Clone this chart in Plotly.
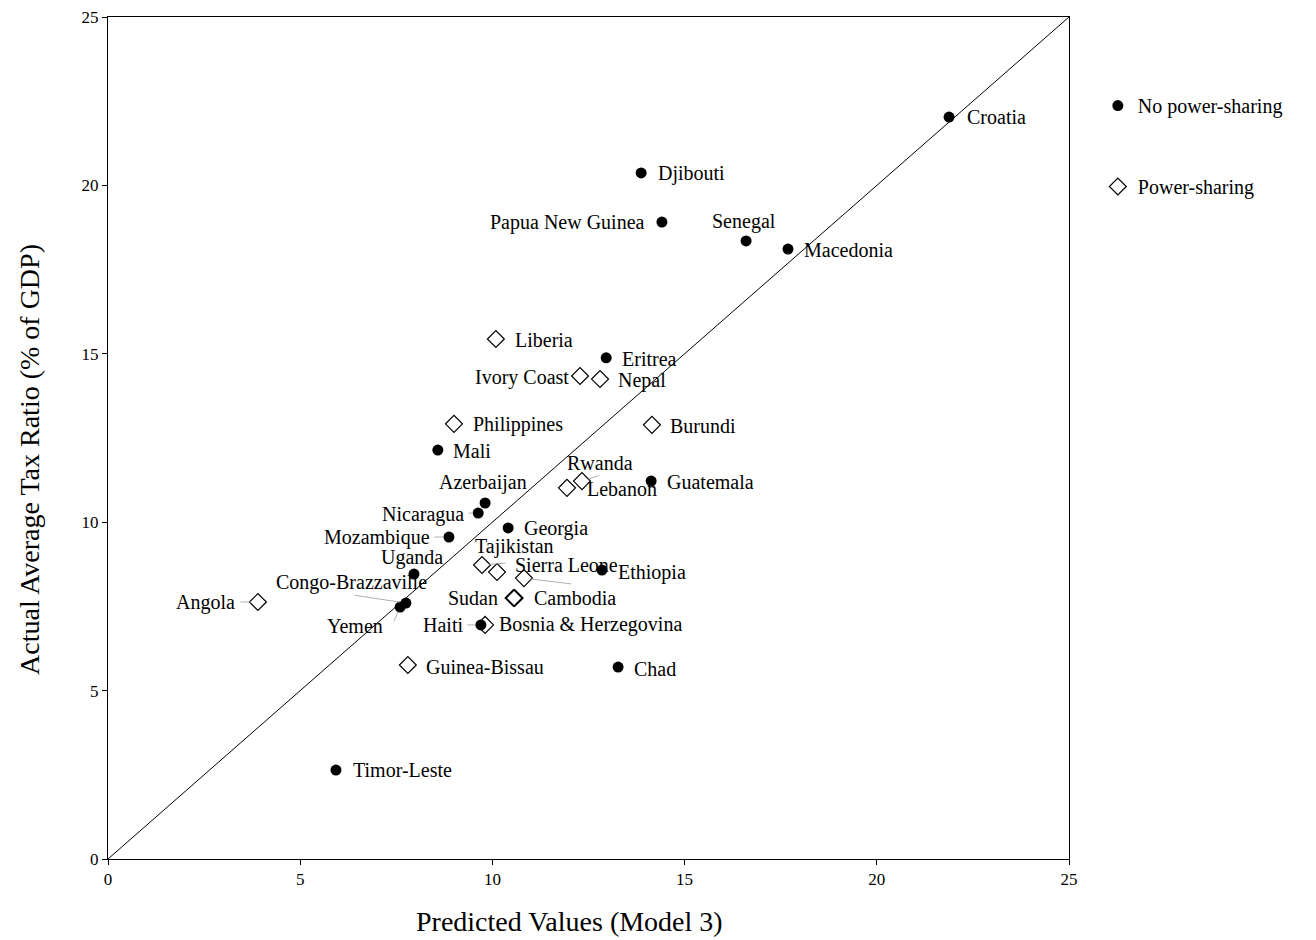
import plotly.graph_objects as go

# No power-sharing (filled circles)
nps_names = ["Croatia", "Djibouti", "Papua New Guinea", "Senegal", "Macedonia", "Eritrea",
             "Mali", "Guatemala", "Azerbaijan", "Nicaragua", "Georgia", "Mozambique",
             "Uganda", "Ethiopia", "Congo-Brazzaville", "Yemen", "Haiti", "Chad", "Timor-Leste"]
nps_pred = [21.88, 13.87, 14.41, 16.60, 17.69, 12.96, 8.58, 14.13, 9.81, 9.63, 10.41, 8.87,
            7.96, 12.85, 7.75, 7.60, 9.70, 13.27, 5.93]
nps_actual = [22.03, 20.37, 18.91, 18.35, 18.11, 14.88, 12.14, 11.22, 10.57, 10.27, 9.83, 9.56,
              8.46, 8.58, 7.60, 7.48, 6.95, 5.70, 2.64]

# Power-sharing (open diamonds)
ps_names = ["Liberia", "Ivory Coast", "Nepal", "Philippines", "Burundi", "Rwanda", "Lebanon",
            "Tajikistan", "Sierra Leone", "", "Sudan", "Cambodia", "Bosnia & Herzegovina",
            "Angola", "Guinea-Bissau"]
ps_pred = [10.09, 12.28, 12.80, 9.00, 14.15, 12.33, 11.94, 9.73, 10.12, 10.82, 10.55, 10.58,
           9.81, 3.90, 7.80]
ps_actual = [15.44, 14.34, 14.25, 12.92, 12.89, 11.22, 11.02, 8.73, 8.52, 8.34, 7.75, 7.75,
             6.95, 7.63, 5.76]

ticks = [0, 5, 10, 15, 20, 25]
x_title = "Predicted Values (Model 3)"
y_title = "Actual Average Tax Ratio (% of GDP)"

# label placement: name -> (xanchor, xshift, yshift)
label_pos = {
    "Croatia": ("left", 16, 0), "Djibouti": ("left", 15, -1), "Papua New Guinea": ("right", -15, 0),
    "Senegal": ("center", -2, 19), "Macedonia": ("left", 14, -1), "Eritrea": ("left", 14, -1),
    "Mali": ("left", 13, -1), "Guatemala": ("left", 14, -1), "Azerbaijan": ("center", -2, 21),
    "Nicaragua": ("right", -12, -1), "Georgia": ("left", 14, -1), "Mozambique": ("right", -17, 0),
    "Uganda": ("center", -2, 17), "Ethiopia": ("left", 14, -2),
    "Congo-Brazzaville": ("center", -54, 21),
    "Yemen": ("right", -15, -19), "Haiti": ("right", -16, 0), "Chad": ("left", 14, -2),
    "Timor-Leste": ("left", 15, 0),
    "Liberia": ("left", 17, -1), "Ivory Coast": ("right", -9, -1), "Nepal": ("left", 16, -1),
    "Philippines": ("left", 17, -1), "Burundi": ("left", 16, -1), "Rwanda": ("center", 18, 18),
    "Lebanon": ("left", 18, -1), "Tajikistan": ("left", -9, 18), "Sierra Leone": ("left", 16, 7),
    "Sudan": ("right", -14, 0), "Cambodia": ("left", 17, 0),
    "Bosnia & Herzegovina": ("left", 12, 0), "Angola": ("right", -21, 0),
    "Guinea-Bissau": ("left", 16, -2),
}

# thin leader lines: (series, index) -> (ax, ay, standoff) in pixels from the point
leaders = {
    ("ps", 13): (-19, 0, 7),    # Angola
    ("nps", 11): (-16, 0, 6),   # Mozambique
    ("nps", 9): (-11, 0, 6),    # Nicaragua
    ("nps", 16): (-15, 0, 6),   # Haiti
    ("nps", 14): (-53, -8, 6),  # Congo-Brazzaville
    ("nps", 15): (-7, 16, 5),   # Yemen
    ("ps", 9): (49, 6, 6),      # unlabelled diamond
    ("ps", 5): (18, -6, 6),     # Rwanda
    ("ps", 7): (25, -2, 7),     # Tajikistan
}

fig = go.Figure()
fig.add_trace(go.Scatter(x=ticks, y=ticks, mode="lines", line=dict(color="black", width=1),
                         showlegend=False, hoverinfo="skip"))
fig.add_trace(go.Scatter(x=nps_pred, y=nps_actual, mode="markers", name="No power-sharing",
                         legendgroup="a",
                         marker=dict(symbol="circle", size=11, color="black")))
fig.add_trace(go.Scatter(x=ps_pred, y=ps_actual, mode="markers", name="Power-sharing",
                         legendgroup="b",
                         marker=dict(symbol="diamond-open", size=13, color="black",
                                     line=dict(width=1.2, color="black"))))

font = dict(family="Liberation Serif", size=20, color="black")
series = {"nps": (nps_names, nps_pred, nps_actual), "ps": (ps_names, ps_pred, ps_actual)}
for key, (names, xs, ys) in series.items():
    for i, (n, xv, yv) in enumerate(zip(names, xs, ys)):
        if (key, i) in leaders:
            ax, ay, so = leaders[(key, i)]
            fig.add_annotation(x=xv, y=yv, text="", showarrow=True, arrowhead=0,
                               arrowwidth=0.8, arrowcolor="#9a9a9a", ax=ax, ay=ay,
                               standoff=so)
        if not n:
            continue
        xa, xs_, ys_ = label_pos[n]
        fig.add_annotation(x=xv, y=yv, text=n, showarrow=False, xanchor=xa, yanchor="middle",
                           xshift=xs_, yshift=ys_, font=font)

title_font = dict(family="Liberation Serif", size=28, color="black")
fig.add_annotation(xref="paper", yref="paper", x=0.48, y=0, yshift=-62, text=x_title,
                   showarrow=False, xanchor="center", yanchor="middle", font=title_font)
fig.add_annotation(xref="paper", yref="paper", x=0, xshift=-78, y=0.474, text=y_title,
                   showarrow=False, textangle=-90, xanchor="center", yanchor="middle",
                   font=title_font)

fig.update_layout(
    width=1308, height=932,
    margin=dict(l=100, r=247, t=9, b=81),
    paper_bgcolor="white", plot_bgcolor="white",
    font=dict(family="Liberation Serif", color="black"),
    legend=dict(x=1.03, y=0.918, xanchor="left", yanchor="top", tracegroupgap=52,
                font=dict(family="Liberation Serif", size=20), itemwidth=30,
                bgcolor="rgba(0,0,0,0)"),
    xaxis=dict(range=[0, 25], tickvals=ticks, showgrid=False, zeroline=False,
               showline=True, linecolor="black", linewidth=1, mirror=True, automargin=False,
               ticks="outside", ticklen=5, tickcolor="black", ticklabeloverflow="allow",
               tickfont=dict(family="Liberation Serif", size=17)),
    yaxis=dict(range=[0, 25], tickvals=ticks, showgrid=False, zeroline=False,
               showline=True, linecolor="black", linewidth=1, mirror=True, automargin=False,
               ticks="outside", ticklen=5, tickcolor="black", ticklabeloverflow="allow",
               tickfont=dict(family="Liberation Serif", size=17)),
)

fig.write_html("out.html")
